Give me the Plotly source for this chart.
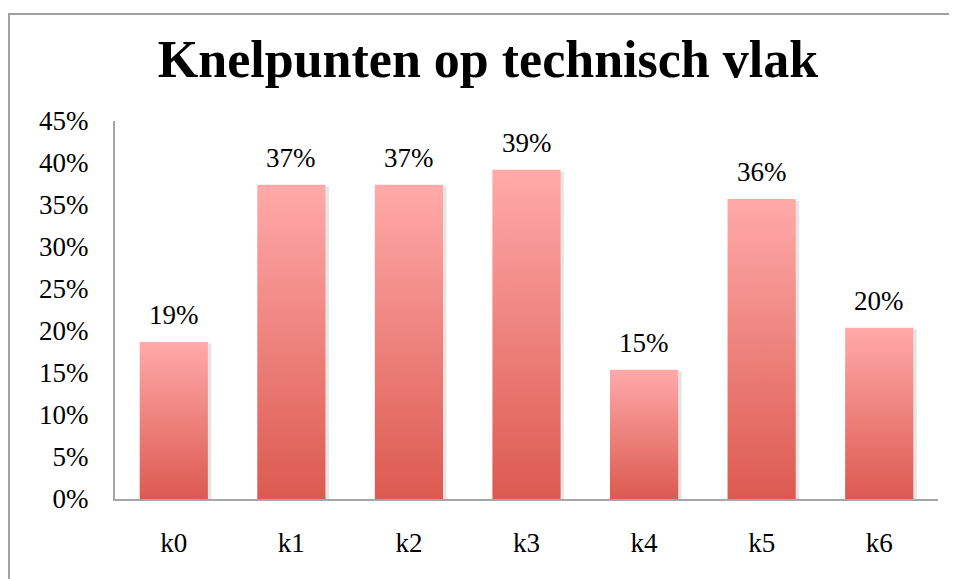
import plotly.graph_objects as go

# data
categories = ["k0", "k1", "k2", "k3", "k4", "k5", "k6"]
values = [0.187, 0.374, 0.374, 0.392, 0.154, 0.357, 0.204]
ytick_vals = [0, 0.05, 0.10, 0.15, 0.20, 0.25, 0.30, 0.35, 0.40, 0.45]
ytick_text = ["0%", "5%", "10%", "15%", "20%", "25%", "30%", "35%", "40%", "45%"]

font_family = "Liberation Serif, DejaVu Serif, serif"
half = 0.29  # half bar width in category units

fig = go.Figure()

# faint drop shadow behind each bar
for i, v in enumerate(values):
    fig.add_trace(go.Scatter(
        x=[i - half + 0.02, i - half + 0.02, i + half + 0.03, i + half + 0.03, i - half + 0.02],
        y=[0, v - 0.002, v - 0.002, 0, 0],
        mode="lines", line=dict(width=0, color="rgba(0,0,0,0)"),
        fill="toself", fillcolor="rgba(0,0,0,0.10)",
        hoverinfo="skip", showlegend=False,
    ))

for i, v in enumerate(values):
    # each bar as a filled polygon so it can take a vertical gradient
    fig.add_trace(go.Scatter(
        x=[i - half, i - half, i + half, i + half, i - half],
        y=[0, v, v, 0, 0],
        mode="lines",
        line=dict(width=0, color="rgba(0,0,0,0)"),
        fill="toself",
        fillgradient=dict(type="vertical",
                          colorscale=[[0, "#DC5A50"], [1, "#FFAAA9"]]),
        hoverinfo="skip",
        showlegend=False,
    ))

# data labels above bars
for i, v in enumerate(values):
    fig.add_annotation(x=i, y=v, text=f"{v:.0%}", showarrow=False,
                       yanchor="bottom", yshift=10,
                       font=dict(family=font_family, size=27, color="#000000"))

# outer chart frame
fig.add_shape(type="rect", xref="paper", yref="paper",
              x0=-0.1288, x1=1.04, y0=-0.25, y1=1.283,
              line=dict(color="#A0A0A0", width=2), layer="below")

# page body has an 8px margin, so the figure is sized/placed to compensate
fig.update_layout(
    width=949, height=571,
    margin=dict(l=107, r=19, t=113, b=80),
    paper_bgcolor="white", plot_bgcolor="white",
    title=dict(text="<b>Knelpunten op technisch vlak</b>",
               x=480 / 949, xanchor="center",
               y=1 - 51 / 571, yanchor="middle", yref="container",
               font=dict(family=font_family, size=52, color="#000000")),
    font=dict(family=font_family, size=27, color="#000000"),
    showlegend=False,
)

fig.update_xaxes(range=[-0.5, 6.5], tickvals=list(range(len(categories))),
                 ticktext=categories, showgrid=False, zeroline=False,
                 showline=True, linecolor="#A6A6A6", linewidth=2,
                 ticks="", ticklabelstandoff=19, fixedrange=True)
fig.update_yaxes(range=[0, 0.45], tickvals=ytick_vals, ticktext=ytick_text,
                 showgrid=False, zeroline=False,
                 showline=True, linecolor="#A6A6A6", linewidth=2,
                 ticks="", ticklabelstandoff=19, fixedrange=True)

fig.write_html("out.html")
